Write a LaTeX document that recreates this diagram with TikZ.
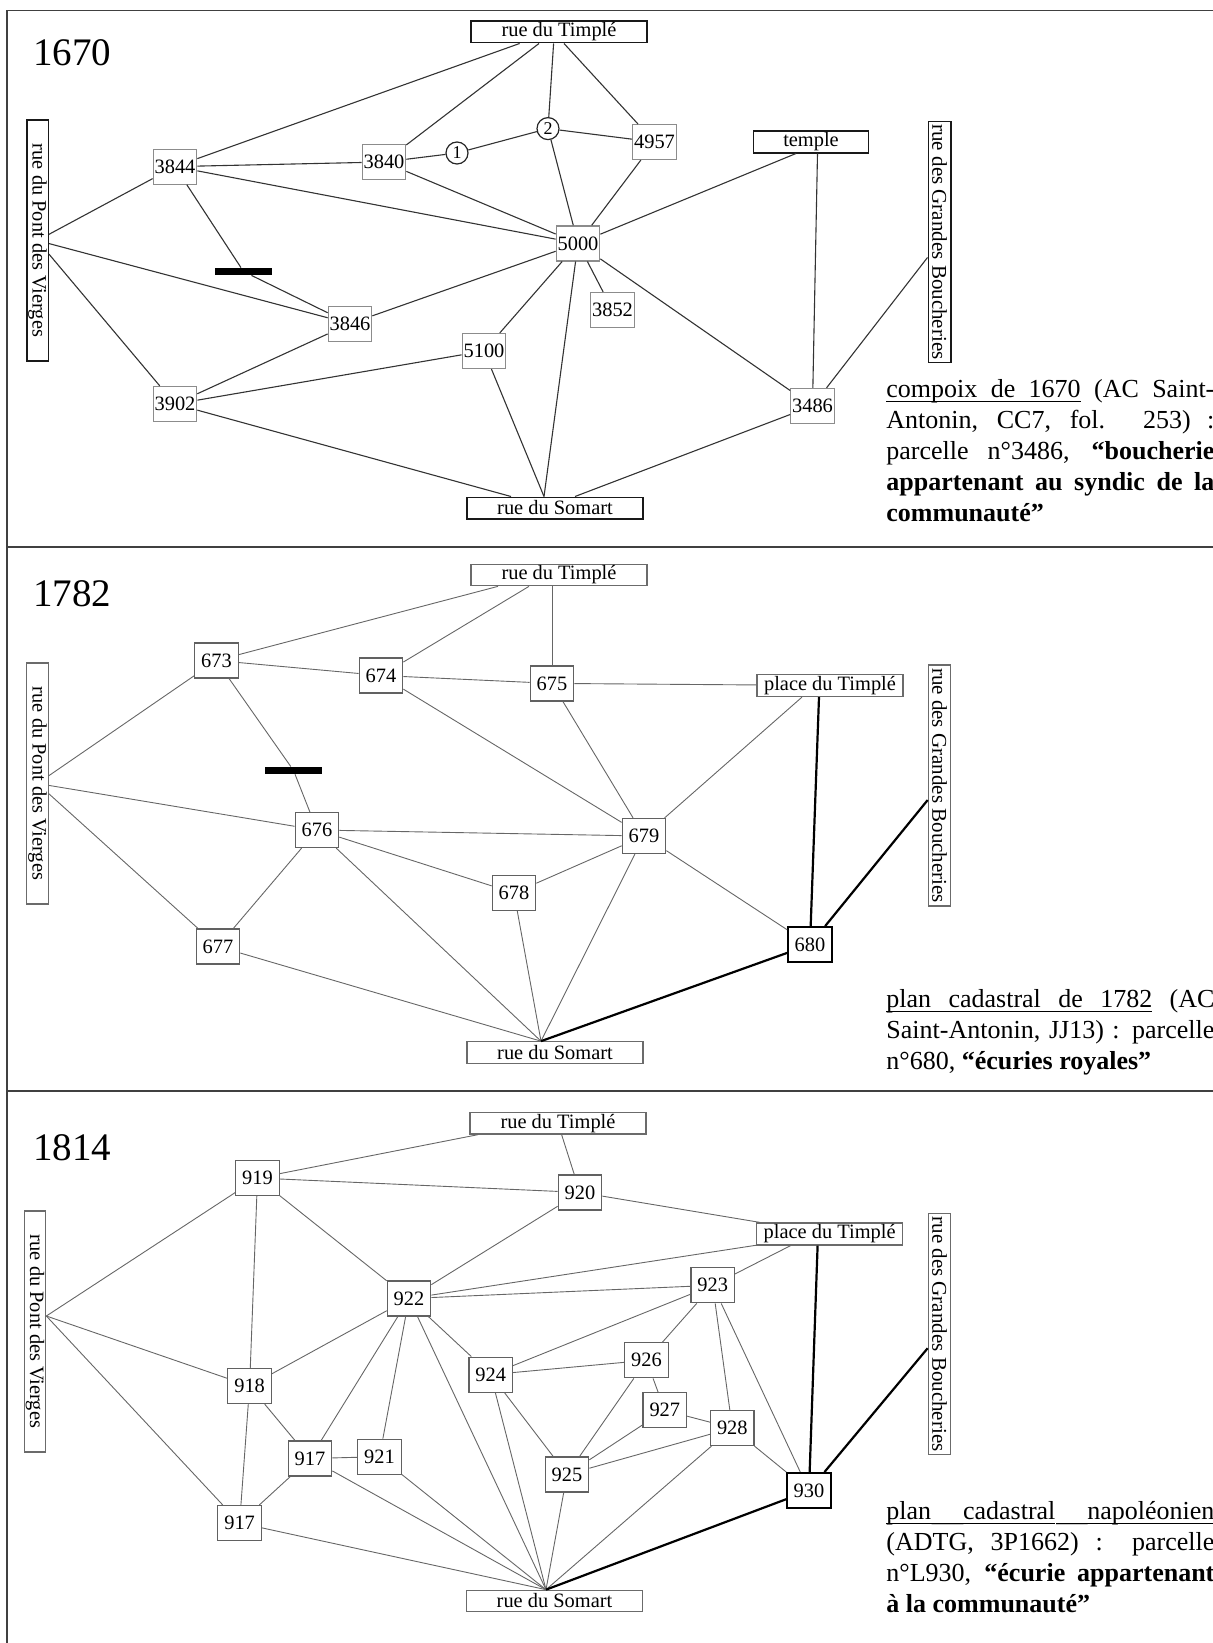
\documentclass[tikz,border=0pt]{standalone}
\usepackage{fontspec}
\setmainfont{Liberation Serif}
\newcommand\ulword[1]{\setbox0\hbox{#1}\rlap{\rule[-2.4pt]{\wd0}{0.6pt}}\box0\relax}
\newcommand\ulgap{\leaders\hbox{\rule[-2.4pt]{0.1pt}{0.6pt}}\hskip\fontdimen2\font plus\fontdimen3\font minus\fontdimen4\font\relax}
\newcommand\capblock[1]{\begin{minipage}[t]{164pt}\tolerance=9999\relax\noindent#1\end{minipage}}

\begin{document}
\begin{tikzpicture}[
  x=0.5pt,
  y=-0.5pt,
  font=\fontsize{10.2}{12}\selectfont,
  pbox/.style={draw, fill=white, line width=0.6pt, inner sep=0pt},
  parcel/.style={pbox, draw=black!45, minimum width=21.75pt, minimum height=17.5pt},
  lot/.style={pbox, draw=black!62, minimum width=21.75pt, minimum height=17.5pt},
  ecurie/.style={pbox, draw=black, line width=1.1pt, minimum width=21.75pt, minimum height=17.5pt},
  street/.style={pbox, draw=black!90, line width=0.75pt, minimum width=88pt, minimum height=10.75pt},
  lane/.style={pbox, draw=black!58, minimum width=88pt, minimum height=10.75pt},
  vstreet/.style={street, rotate=-90, minimum width=120.5pt},
  vlane/.style={lane, rotate=-90, minimum width=120.5pt},
  numring/.style={circle, draw=black!85, fill=white, line width=0.6pt, minimum size=11pt,
    inner sep=0pt, font=\fontsize{9}{10}\selectfont},
  wall/.style={fill=black, minimum width=28.5pt, minimum height=3.5pt, inner sep=0pt},
  year/.style={anchor=base west, inner sep=0pt, font=\fontsize{19.5}{22}\selectfont},
  caption/.style={anchor=base west, inner sep=0pt, font=\fontsize{13}{15.5}\selectfont},
  link/.style={draw=black!80, line width=0.55pt},
  thinlink/.style={draw=black!60, line width=0.45pt},
  heavy/.style={draw=black, line width=1.1pt},
  panelrule/.style={draw=black!75, line width=0.7pt}
]
  \useasboundingbox (0,0) rectangle (1213,1643);
  \draw[panelrule] (1213,10.7) -- (7,10.7) -- (7,1643);
  \draw[panelrule] (7,547) -- (1213,547);
  \draw[panelrule] (7,1091) -- (1213,1091);

  \node[year] (yr1) at (33,66) {1670};
  \node[street] (tim1) at (559,32) {rue du Timplé};
  \node[street] (som1) at (555,508) {rue du Somart};
  \node[street, minimum width=57.5pt] (tem1) at (811,142) {temple};
  \node[vstreet] (pon1) at (37.5,240.5) {rue du Pont des Vierges};
  \node[vstreet, minimum height=11.25pt, font=\fontsize{10.5}{12}\selectfont] (gra1) at (939.5,242) {rue des Grandes Boucheries};
  \node[parcel] (p3844) at (175,166.6) {3844};
  \node[parcel] (p3840) at (384,162) {3840};
  \node[numring] (c1) at (457,153) {1};
  \node[numring] (c2) at (548,128.6) {2};
  \node[parcel] (p4957) at (654.5,142) {4957};
  \node[parcel] (p5000) at (578,243.4) {5000};
  \node[wall] (bar1) at (243.5,271.5) {};
  \node[parcel] (p3846) at (350,323.7) {3846};
  \node[parcel] (p3852) at (612.5,310) {3852};
  \node[parcel] (p5100) at (484,351) {5100};
  \node[parcel] (p3902) at (175,404) {3902};
  \node[parcel] (p3486) at (812.5,406) {3486};
  \node[caption] (cap1) at (886,397) {\capblock{\ulword{compoix}\ulgap\ulword{de}\ulgap\ulword{1670} (AC Saint-\linebreak Antonin, CC7, fol. 253) :\linebreak parcelle n°3486, \textbf{“boucherie\linebreak appartenant au syndic de la\linebreak communauté”}}};

  \draw[link] (p3844) -- ([xshift=-19.7pt]tim1.south);
  \draw[link] (p3840) -- ([xshift=-10pt]tim1.south);
  \draw[link] (c2) -- ([xshift=-2.7pt]tim1.south);
  \draw[link] (p4957) -- ([xshift=2.5pt]tim1.south);
  \draw[link] (pon1) -- (p3844);
  \draw[link] (pon1) -- (p3846);
  \draw[link] (pon1) -- (p3902);
  \draw[link] (p3844) -- (p3840);
  \draw[link] (p3844) -- (p5000);
  \draw[link] (p3844) -- (bar1);
  \draw[link] (bar1) -- (p3846);
  \draw[link] (p3840) -- (c1);
  \draw[link] (c1) -- (c2);
  \draw[link] (c2) -- (p4957);
  \draw[link] (p3840) -- (p5000);
  \draw[link] (c2) -- (p5000);
  \draw[link] (p4957) -- (p5000);
  \draw[link] (p5000) -- ([xshift=-7.5pt]tem1.south);
  \draw[link] (p3486) -- ([xshift=3.25pt]tem1.south);
  \draw[link] (p3846) -- (p5000);
  \draw[link] (p5000) -- (p3852);
  \draw[link] (p5000) -- (p5100);
  \draw[link] (p5000) -- (p3486);
  \draw[link] (p5000) -- ([xshift=-5.5pt]som1.north);
  \draw[link] (p5100) -- ([xshift=-5.5pt]som1.north);
  \draw[link] (p3902) -- ([xshift=-22pt]som1.north);
  \draw[link] (p3486) -- ([xshift=10pt]som1.north);
  \draw[link] (gra1) -- (p3486);
  \draw[link] (p3846) -- (p3902);
  \draw[link] (p3902) -- (p5100);

  \node[year] (yr2) at (33,606) {1782};
  \node[lane] (tim2) at (559,575) {rue du Timplé};
  \node[lane] (som2) at (555,1052.5) {rue du Somart};
  \node[lane, minimum width=73pt, minimum height=11pt] (pl2) at (830,685.5) {place du Timplé};
  \node[vlane] (pon2) at (37.5,783.5) {rue du Pont des Vierges};
  \node[vlane, minimum height=11.25pt, font=\fontsize{10.5}{12}\selectfont] (gra2) at (939.5,785.5) {rue des Grandes Boucheries};
  \node[lot] (p673) at (216.4,660.5) {673};
  \node[lot] (p674) at (381,675.5) {674};
  \node[lot] (p675) at (552,683.4) {675};
  \node[wall] (bar2) at (293.5,770.4) {};
  \node[lot] (p676) at (317,830) {676};
  \node[lot] (p677) at (218,946.5) {677};
  \node[lot] (p678) at (514,893) {678};
  \node[lot] (p679) at (644,836) {679};
  \node[ecurie] (p680) at (810,944.7) {680};
  \node[caption] (cap2) at (886,1007) {\capblock{\ulword{plan}\ulgap\ulword{cadastral}\ulgap\ulword{de}\ulgap\ulword{1782} (AC\linebreak Saint-Antonin, JJ13) : parcelle\linebreak n°680, \textbf{“écuries royales”}}};

  \coordinate (som2c) at ([xshift=-7pt]som2.north);
  \draw[thinlink] (p673) -- ([xshift=-30.5pt]tim2.south);
  \draw[thinlink] (p674) -- ([xshift=-15pt]tim2.south);
  \draw[thinlink] (p675) -- (p675 |- tim2.south);
  \draw[thinlink] (pon2) -- (p673);
  \draw[thinlink] (pon2) -- (p676);
  \draw[thinlink] (pon2) -- (p677);
  \draw[thinlink] (p673) -- (p674);
  \draw[thinlink] (p674) -- (p675);
  \draw[thinlink] (p675) -- (pl2);
  \draw[thinlink] (p673) -- (bar2);
  \draw[thinlink] (bar2) -- (p676);
  \draw[thinlink] (p674) -- (p679);
  \draw[thinlink] (p675) -- (p679);
  \draw[thinlink] (p676) -- (p679);
  \draw[thinlink] (p676) -- (p678);
  \draw[thinlink] (p676) -- (p677);
  \draw[thinlink] (p676) -- (som2c);
  \draw[thinlink] (p677) -- (som2c);
  \draw[thinlink] (p678) -- (p679);
  \draw[thinlink] (p678) -- (som2c);
  \draw[thinlink] (p679) -- (som2c);
  \draw[thinlink] (p679) -- ([xshift=-14pt]pl2.south);
  \draw[thinlink] (p679) -- (p680);
  \draw[heavy] (p680) -- ([xshift=-5.5pt]pl2.south);
  \draw[heavy] (gra2) -- (p680);
  \draw[heavy] (p680) -- (som2c);

  \node[year] (yr3) at (33,1160) {1814};
  \node[lane] (tim3) at (558,1123.3) {rue du Timplé};
  \node[lane] (som3) at (554.5,1601) {rue du Somart};
  \node[lane, minimum width=73pt, minimum height=11pt] (pl3) at (829.6,1234) {place du Timplé};
  \node[vlane] (pon3) at (35,1331.5) {rue du Pont des Vierges};
  \node[vlane, minimum height=11.25pt, font=\fontsize{10.5}{12}\selectfont] (gra3) at (939.5,1334) {rue des Grandes Boucheries};
  \node[lot] (p919) at (257.5,1178) {919};
  \node[lot] (p920) at (580,1192.4) {920};
  \node[lot] (p922) at (409,1298.5) {922};
  \node[lot] (p918) at (249.6,1386) {918};
  \node[lot] (p917a) at (310,1458.5) {917};
  \node[lot] (p921) at (379.5,1456.7) {921};
  \node[lot] (p917b) at (239.6,1523) {917};
  \node[lot] (p924) at (490.7,1374.6) {924};
  \node[lot] (p925) at (567,1474.5) {925};
  \node[lot] (p923) at (712.7,1285.3) {923};
  \node[lot] (p926) at (646.4,1360.3) {926};
  \node[lot] (p927) at (664.8,1410.3) {927};
  \node[lot] (p928) at (732.3,1428) {928};
  \node[ecurie] (p930) at (809,1490.6) {930};
  \node[caption] (cap3) at (886,1519.5) {\capblock{\ulword{plan}\ulgap\ulword{cadastral}\ulgap\ulword{napoléonien}\linebreak (ADTG, 3P1662) : parcelle\linebreak n°L930, \textbf{“écurie appartenant\linebreak à la communauté”}}};

  \coordinate (som3c) at ([xshift=-4.25pt]som3.north);
  \coordinate (pon3c) at ([yshift=7.75pt]pon3.north);
  \draw[thinlink] (p919) -- ([xshift=-40pt]tim3.south);
  \draw[thinlink] (p920) -- (tim3);
  \draw[thinlink] (p919) -- (pon3c);
  \draw[thinlink] (p918) -- (pon3c);
  \draw[thinlink] (p917b) -- (pon3c);
  \draw[thinlink] (p919) -- (p920);
  \draw[thinlink] (p919) -- (p918);
  \draw[thinlink] (p919) -- (p922);
  \draw[thinlink] (p920) -- (p922);
  \draw[thinlink] (p920) -- (pl3);
  \draw[thinlink] (p922) -- (pl3);
  \draw[thinlink] (p922) -- (p923);
  \draw[thinlink] (p922) -- (p918);
  \draw[thinlink] (p922) -- (p917a);
  \draw[thinlink] (p922) -- (p921);
  \draw[thinlink] (p922) -- (p924);
  \draw[thinlink] (p922) -- (som3c);
  \draw[thinlink] (p918) -- (p917a);
  \draw[thinlink] (p918) -- (p917b);
  \draw[thinlink] (p917a) -- (p917b);
  \draw[thinlink] (p917a) -- (p921);
  \draw[thinlink] (p917a) -- (som3c);
  \draw[thinlink] (p921) -- (som3c);
  \draw[thinlink] (p917b) -- (som3c);
  \draw[thinlink] (p924) -- (p923);
  \draw[thinlink] (p924) -- (p926);
  \draw[thinlink] (p924) -- (p925);
  \draw[thinlink] (p924) -- (som3c);
  \draw[thinlink] (p925) -- (p926);
  \draw[thinlink] (p925) -- (p927);
  \draw[thinlink] (p925) -- (p928);
  \draw[thinlink] (p925) -- (som3c);
  \draw[thinlink] (p926) -- (p923);
  \draw[thinlink] (p926) -- (p927);
  \draw[thinlink] (p927) -- (p928);
  \draw[thinlink] (p923) -- (p928);
  \draw[thinlink] (p923) -- (p930);
  \draw[thinlink] (p923) -- ([xshift=-19.5pt]pl3.south);
  \draw[thinlink] (p928) -- (p930);
  \draw[thinlink] (p928) -- (som3c);
  \draw[heavy] (p930) -- ([xshift=-6pt]pl3.south);
  \draw[heavy] (gra3) -- (p930);
  \draw[heavy] (p930) -- (som3c);
\end{tikzpicture}
\end{document}
